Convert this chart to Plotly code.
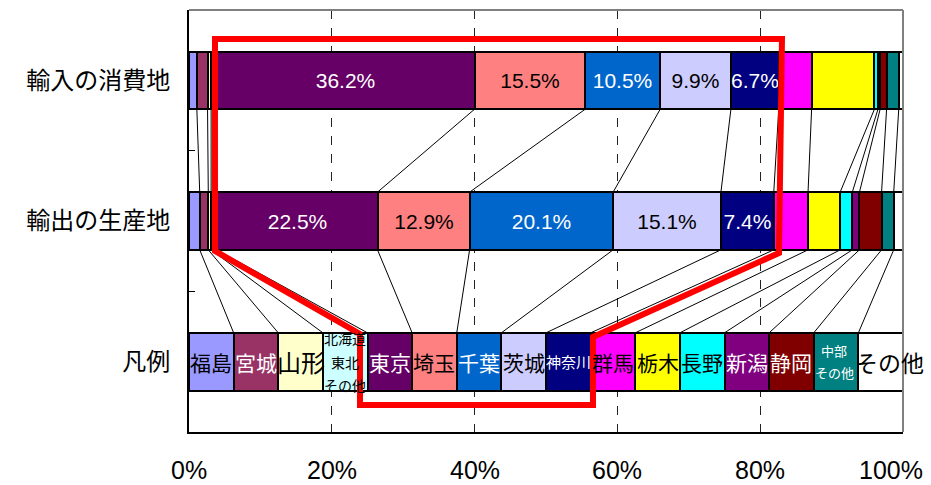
import plotly.graph_objects as go
import numpy as np

# Prefectures, in stacking order
prefs = ["福島", "宮城", "山形", "北海道・東北・その他", "東京", "埼玉", "千葉", "茨城",
         "神奈川", "群馬", "栃木", "長野", "新潟", "静岡", "中部・その他", "その他"]
colors = ["#9999FF", "#993366", "#FFFFCC", "#CCFFFF", "#660066", "#FF8080", "#0066CC", "#CCCCFF",
          "#000080", "#FF00FF", "#FFFF00", "#00FFFF", "#800080", "#800000", "#008080", "#FFFFFF"]

# Shares (%)
import_share = [1.1, 1.5, 0.5, 0.7, 36.2, 15.5, 10.5, 9.9, 6.7, 4.6, 8.8, 0.5, 0.3, 0.9, 1.7, 0.6]
export_share = [1.5, 1.2, 0.4, 0.8, 22.5, 12.9, 20.1, 15.1, 7.4, 4.8, 4.5, 1.7, 1.0, 3.1, 1.7, 1.3]
legend_share = [6.25] * 16

row_labels = ["凡例", "輸出の生産地", "輸入の消費地"]
x_ticks = [0, 20, 40, 60, 80, 100]
x_tick_labels = ["0%", "20%", "40%", "60%", "80%", "100%"]

# Segments that carry a value label, and the label colour used on each
labelled = {"東京": "white", "埼玉": "black", "千葉": "white", "茨城": "black", "神奈川": "white"}

Y_IMP, Y_EXP, Y_LEG = 2, 1, 0
BAR_W = 0.41

fig = go.Figure()

# Series lines joining the segment boundaries of neighbouring bars
cum_imp = np.cumsum(import_share)
cum_exp = np.cumsum(export_share)
cum_leg = np.cumsum(legend_share)
for k in range(len(prefs) - 1):
    fig.add_trace(go.Scatter(
        x=[cum_imp[k], cum_exp[k], None, cum_exp[k], cum_leg[k]],
        y=[Y_IMP - BAR_W / 2, Y_EXP + BAR_W / 2, None, Y_EXP - BAR_W / 2, Y_LEG + BAR_W / 2],
        mode="lines", line=dict(color="black", width=1),
        hoverinfo="skip", showlegend=False))

for i, p in enumerate(prefs):
    txt, tcol = ["", "", ""], ["black", "black", "black"]
    if p in labelled:
        txt = [f"{import_share[i]:.1f}%", f"{export_share[i]:.1f}%", ""]
        tcol = [labelled[p]] * 3
    fig.add_trace(go.Bar(
        y=[Y_IMP, Y_EXP, Y_LEG], x=[import_share[i], export_share[i], legend_share[i]],
        orientation="h", width=BAR_W, name=p,
        marker=dict(color=colors[i], line=dict(color="black", width=2)),
        text=txt, textposition="inside", insidetextanchor="middle", constraintext="none",
        textangle=0,
        textfont=dict(family="Liberation Sans, Arial", size=21, color=tcol),
        hoverinfo="skip", showlegend=False))

# Names written inside the key bar
key_style = {
    "福島": ("black", 21), "宮城": ("white", 21), "山形": ("black", 24),
    "東京": ("white", 21), "埼玉": ("black", 21), "千葉": ("white", 21), "茨城": ("black", 21),
    "神奈川": ("white", 15), "群馬": ("black", 21), "栃木": ("black", 21), "長野": ("black", 21),
    "新潟": ("white", 21), "静岡": ("white", 21), "その他": ("black", 23),
}
jp = "Noto Sans CJK JP"
annotations = []
for i, p in enumerate(prefs):
    xc = cum_leg[i] - legend_share[i] / 2
    if p == "北海道・東北・その他":
        for line, dy in zip(["北海道", "東北", "その他"], [24, 0, -23]):
            annotations.append(dict(x=xc, y=Y_LEG, yshift=dy, text=line, showarrow=False,
                                    font=dict(family=jp, size=14, color="black")))
    elif p == "中部・その他":
        for line, dy in zip(["中部", "その他"], [11, -11]):
            annotations.append(dict(x=xc, y=Y_LEG, yshift=dy, xshift=-2, text=line,
                                    showarrow=False, font=dict(family=jp, size=13, color="white")))
    else:
        c, s = key_style[p]
        annotations.append(dict(x=xc, y=Y_LEG, text=p, showarrow=False,
                                xshift=9 if p == "その他" else 0,
                                font=dict(family=jp, size=s, color=c)))

# Percentage axis labels
for v, t in zip(x_ticks, x_tick_labels):
    a = dict(x=v, y=-0.09, xref="x", yref="paper", text=t, showarrow=False, yanchor="middle",
             font=dict(family="Liberation Sans, Arial", size=25, color="black"))
    if v == 100:
        a.update(xanchor="right", xshift=22)
    annotations.append(a)

# Highlight outline around the Tokyo-area prefectures
outline = [(3.64, 2.294), (83.05, 2.294), (82.63, 0.773), (56.58, 0.175), (56.58, -0.308),
           (23.95, -0.308), (23.95, 0.197), (3.64, 0.787)]
path = "M " + " L ".join(f"{x},{y}" for x, y in outline) + " Z"

shapes = [
    dict(type="line", xref="paper", yref="paper", x0=0, x1=1, y0=1, y1=1,
         line=dict(color="#808080", width=2)),
    dict(type="line", xref="paper", yref="paper", x0=1, x1=1, y0=0, y1=1,
         line=dict(color="#808080", width=2)),
    dict(type="path", xref="x", yref="y", path=path, line=dict(color="#FF0000", width=6),
         layer="above"),
]

fig.update_layout(
    width=931, height=485, margin=dict(l=189, r=28, t=10, b=53),
    plot_bgcolor="white", paper_bgcolor="white", barmode="stack", bargap=0,
    annotations=annotations, shapes=shapes,
    xaxis=dict(range=[0, 100], tickvals=[20, 40, 60, 80], showticklabels=False, ticks="",
               showgrid=True, gridcolor="#222222", gridwidth=1, griddash="dash",
               showline=True, linecolor="black", linewidth=2, zeroline=False, fixedrange=True),
    yaxis=dict(range=[-0.5, 2.5], tickvals=[0, 1, 2], ticktext=row_labels, ticks="",
               tickfont=dict(family=jp, size=24, color="black"), ticklabelstandoff=12,
               showgrid=False, zeroline=False, showline=True, linecolor="black", linewidth=2,
               minor=dict(tickvals=[0.5, 1.5], ticks="inside", ticklen=6, tickcolor="black",
                          tickwidth=1, showgrid=False),
               fixedrange=True),
)

fig.write_html("out.html")
